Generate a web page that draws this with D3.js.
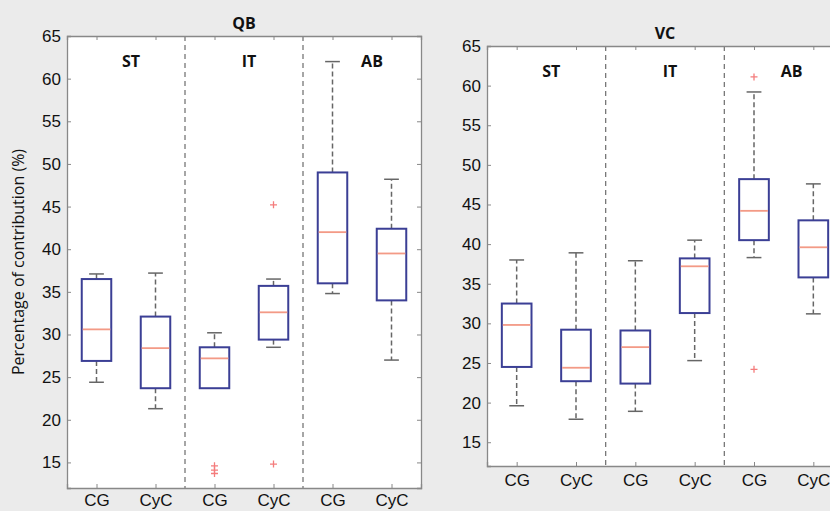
<!DOCTYPE html>
<html>
<head>
<meta charset="utf-8">
<script src="https://cdn.jsdelivr.net/npm/d3@7"></script>
<style>
  body { margin: 0; background: #ebebeb; }
  svg { display: block; font-family: "Open Sans", "DejaVu Sans", sans-serif; }
</style>
</head>
<body>
<div id="chart"></div>
<script>
// categories along each x axis
var conditions = ["CG", "CyC", "CG", "CyC", "CG", "CyC"]
var regions = ["ST", "IT", "AB"]
var yTicks = [15, 20, 25, 30, 35, 40, 45, 50, 55, 60, 65]

// QB panel: box plot summaries, one entry per box
var qbLow    = [24.4, 21.3, 23.7, 28.5, 34.8, 27.0]
var qbQ1     = [26.9, 23.7, 23.7, 29.4, 36.0, 34.0]
var qbMedian = [30.6, 28.4, 27.2, 32.6, 42.0, 39.5]
var qbQ3     = [36.5, 32.1, 28.5, 35.7, 49.0, 42.4]
var qbHigh   = [37.1, 37.2, 30.2, 36.5, 62.0, 48.2]
var qbOutliers = [[], [], [14.6, 14.1, 13.7], [45.2, 14.8], [], []]

// VC panel
var vcLow    = [19.6, 17.9, 18.9, 25.3, 38.3, 31.2]
var vcQ1     = [24.5, 22.7, 22.4, 31.3, 40.5, 35.8]
var vcMedian = [29.8, 24.4, 27.0, 37.2, 44.2, 39.6]
var vcQ3     = [32.5, 29.2, 29.1, 38.2, 48.2, 43.0]
var vcHigh   = [38.0, 38.9, 37.9, 40.5, 59.2, 47.6]
var vcOutliers = [[], [], [], [], [61.1, 24.2], []]

var width = 830, height = 511

var svg = d3.select("#chart").append("svg")
  .attr("width", width)
  .attr("height", height)

svg.append("rect").attr("width", width).attr("height", height).attr("fill", "#ebebeb")

function buildRows(low, q1, med, q3, high, outl) {
  return conditions.map(function(c, i) {
    return {pos: i + 1, low: low[i], q1: q1[i], med: med[i], q3: q3[i], high: high[i], outliers: outl[i]}
  })
}

function panel(opts) {
  var x = d3.scaleLinear().domain([0.5, 6.5]).range([opts.left, opts.right])
  var y = d3.scaleLinear().domain([12, 65]).range([opts.bottom, opts.top])
  var g = svg.append("g")

  // white axes area
  g.append("rect")
    .attr("x", opts.left).attr("y", opts.top)
    .attr("width", opts.right - opts.left).attr("height", opts.bottom - opts.top)
    .attr("fill", "white")

  // dashed separators between regions
  g.selectAll(".sep").data([2.5, 4.5]).enter().append("line")
    .attr("x1", function(d) { return x(d) }).attr("x2", function(d) { return x(d) })
    .attr("y1", opts.top).attr("y2", opts.bottom)
    .attr("stroke", "#777").attr("stroke-width", 1.3).attr("stroke-dasharray", "5,4")

  var rows = buildRows(opts.low, opts.q1, opts.med, opts.q3, opts.high, opts.outliers)
  var bw = x(1.25) - x(1)   // half box width
  var cw = x(1.125) - x(1)  // half cap width

  var box = g.selectAll(".box").data(rows).enter().append("g")

  // whiskers
  box.append("line")
    .attr("x1", function(d) { return x(d.pos) }).attr("x2", function(d) { return x(d.pos) })
    .attr("y1", function(d) { return y(d.q3) }).attr("y2", function(d) { return y(d.high) })
    .attr("stroke", "#666").attr("stroke-width", 1.5).attr("stroke-dasharray", "5,3")
  box.append("line")
    .attr("x1", function(d) { return x(d.pos) }).attr("x2", function(d) { return x(d.pos) })
    .attr("y1", function(d) { return y(d.q1) }).attr("y2", function(d) { return y(d.low) })
    .attr("stroke", "#666").attr("stroke-width", 1.5).attr("stroke-dasharray", "5,3")
  // caps
  ;["high", "low"].forEach(function(k) {
    box.append("line")
      .attr("x1", function(d) { return x(d.pos) - cw }).attr("x2", function(d) { return x(d.pos) + cw })
      .attr("y1", function(d) { return y(d[k]) }).attr("y2", function(d) { return y(d[k]) })
      .attr("stroke", "#666").attr("stroke-width", 1.5)
  })
  // box
  box.append("rect")
    .attr("x", function(d) { return x(d.pos) - bw })
    .attr("y", function(d) { return y(d.q3) })
    .attr("width", 2 * bw)
    .attr("height", function(d) { return y(d.q1) - y(d.q3) })
    .attr("fill", "white").attr("stroke", "#3b3f95").attr("stroke-width", 2)
  // median
  box.append("line")
    .attr("x1", function(d) { return x(d.pos) - bw + 1 }).attr("x2", function(d) { return x(d.pos) + bw - 1 })
    .attr("y1", function(d) { return y(d.med) }).attr("y2", function(d) { return y(d.med) })
    .attr("stroke", "#f39a86").attr("stroke-width", 1.8)

  // outliers as "+"
  var pts = []
  rows.forEach(function(d) { d.outliers.forEach(function(v) { pts.push({pos: d.pos, v: v}) }) })
  g.selectAll(".out").data(pts).enter().append("path")
    .attr("d", function(d) {
      var cx = x(d.pos), cy = y(d.v)
      return "M" + (cx - 3.5) + "," + cy + "H" + (cx + 3.5) + "M" + cx + "," + (cy - 3.5) + "V" + (cy + 3.5)
    })
    .attr("stroke", "#f47c7c").attr("stroke-width", 1.3).attr("fill", "none")

  // axes, MATLAB style inward ticks
  var axL = g.append("g").attr("transform", "translate(" + opts.left + ",0)")
    .call(d3.axisLeft(y).tickValues(yTicks).tickSize(-4).tickPadding(6))
  var axB = g.append("g").attr("transform", "translate(0," + opts.bottom + ")")
    .call(d3.axisBottom(x).tickValues([1, 2, 3, 4, 5, 6]).tickSize(-4).tickPadding(opts.xPad)
      .tickFormat(function(d, i) { return conditions[i] }))
  var axT = g.append("g").attr("transform", "translate(0," + opts.top + ")")
    .call(d3.axisTop(x).tickValues([1, 2, 3, 4, 5, 6]).tickSize(-4).tickFormat(""))
  var axR = g.append("g").attr("transform", "translate(" + opts.right + ",0)")
    .call(d3.axisRight(y).tickValues(yTicks).tickSize(-4).tickFormat(""))

  ;[axL, axB, axT, axR].forEach(function(a) {
    a.select(".domain").attr("stroke", "#888").attr("stroke-width", 1.3)
    a.selectAll(".tick line").attr("stroke", "#888")
    a.selectAll("text").attr("fill", "#111").style("font-size", "17px")
  })

  // region labels
  g.selectAll(".reg").data(regions).enter().append("text")
    .attr("x", function(d, i) { return x(1.5 + 2 * i) + opts.regOffset[i] })
    .attr("y", opts.top + 31)
    .attr("text-anchor", "middle")
    .style("font-size", "16px").style("font-weight", "bold").attr("fill", "#111")
    .text(function(d) { return d })

  // title
  g.append("text")
    .attr("x", (opts.left + opts.right) / 2).attr("y", opts.top - 7)
    .attr("text-anchor", "middle")
    .style("font-size", "16px").style("font-weight", "bold").attr("fill", "#111")
    .text(opts.title)
}

panel({title: "QB", left: 67, right: 421, top: 36, bottom: 488, xPad: 6,
  low: qbLow, q1: qbQ1, med: qbMedian, q3: qbQ3, high: qbHigh, outliers: qbOutliers,
  regOffset: [5, 5, 10]})

panel({title: "VC", left: 487, right: 843, top: 46, bottom: 466, xPad: 8,
  low: vcLow, q1: vcQ1, med: vcMedian, q3: vcQ3, high: vcHigh, outliers: vcOutliers,
  regOffset: [5, 5, 8]})

// y axis label
svg.append("text")
  .attr("transform", "translate(24,262) rotate(-90)")
  .attr("text-anchor", "middle")
  .style("font-size", "16px").attr("fill", "#111")
  .text("Percentage of contribution (%)")
</script>
</body>
</html>
